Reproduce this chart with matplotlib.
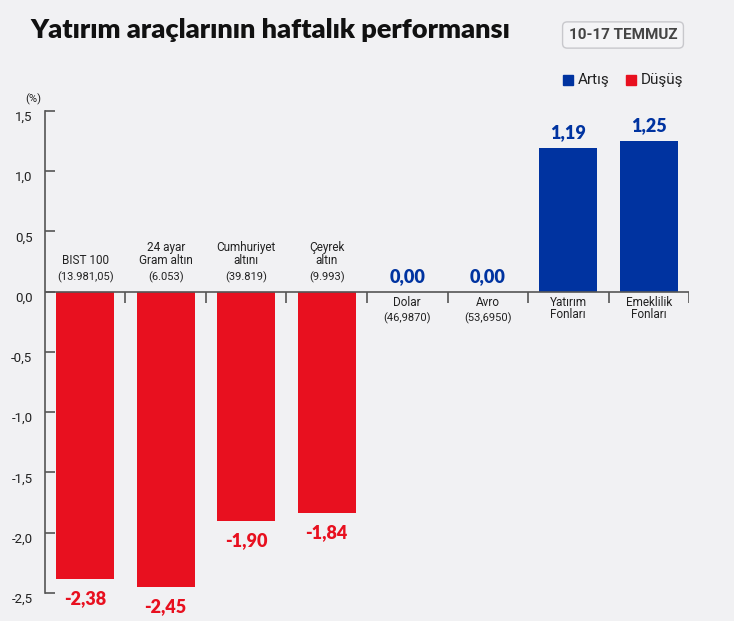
import numpy as np
import matplotlib.pyplot as plt

# data
names = ["BIST 100", "24 ayar\nGram altın", "Cumhuriyet\naltını", "Çeyrek\naltın",
         "Dolar", "Avro", "Yatırım\nFonları", "Emeklilik\nFonları"]
subs = ["(13.981,05)", "(6.053)", "(39.819)", "(9.993)",
        "(46,9870)", "(53,6950)", "", ""]
values = [-2.38, -2.45, -1.90, -1.84, 0.00, 0.00, 1.19, 1.25]
yticks = [1.5, 1.0, 0.5, 0.0, -0.5, -1.0, -1.5, -2.0, -2.5]

BG = "#f1f1f3"
RED = "#e8101f"
BLUE = "#0033a0"
AXIS = "#555555"
TXT = "#222222"
FONT = ["Roboto", "DejaVu Sans"]
BOLD = ["Lato", "DejaVu Sans"]

plt.rcParams['font.family'] = FONT

fig = plt.figure(figsize=(7.34, 6.21), dpi=100, facecolor=BG)
ax = fig.add_axes([0.0613, 0.0451, 0.8774, 0.7762])
ax.set_facecolor(BG)

x = np.arange(len(values))
colors = [RED if v < 0 else BLUE for v in values]
ax.bar(x, values, width=0.72, color=colors, zorder=2)

ax.set_xlim(-0.5, len(values) - 0.5)
ax.set_ylim(-2.5, 1.5)

# spines / ticks
for s in ["top", "right", "bottom"]:
    ax.spines[s].set_visible(False)
ax.spines["left"].set_color(AXIS)
ax.spines["left"].set_linewidth(1.2)
ax.set_xticks([])
ax.set_yticks(yticks)
ax.set_yticklabels([f"{t:.1f}".replace(".", ",") for t in yticks])
ax.tick_params(axis="y", direction="in", length=7, width=1.2, color=AXIS,
               labelsize=9.5, labelcolor=TXT, pad=9)
for lbl in ax.get_yticklabels():
    lbl.set_verticalalignment("top")

# zero line with separators
ax.hlines(0, -0.5, len(values) - 0.5, color=AXIS, lw=1.2, zorder=3)
ax.vlines(x[:-1] + 0.5, -0.09, 0, color=AXIS, lw=1.2, zorder=3)
ax.vlines(len(values) - 0.5, -0.09, 0, color=AXIS, lw=1.2, zorder=3)

# category labels and values
for i, v in enumerate(values):
    label = names[i]
    col = RED if v < 0 else BLUE
    txt = f"{v:.2f}".replace(".", ",")
    if v < 0:
        # labels above zero line
        if subs[i]:
            ax.annotate(subs[i], (i, 0), xytext=(0, 6), textcoords="offset points",
                        ha="center", va="bottom", fontsize=8, color=TXT)
        ax.annotate(label, (i, 0), xytext=(0, 18), textcoords="offset points",
                    ha="center", va="bottom", fontsize=8.5, color=TXT, linespacing=0.95)
        ax.annotate(txt, (i, v), xytext=(0, -8), textcoords="offset points",
                    ha="center", va="top", fontsize=13, color=col,
                    fontweight="heavy", family=BOLD, annotation_clip=False)
    else:
        ax.annotate(label, (i, 0), xytext=(0, -3), textcoords="offset points",
                    ha="center", va="top", fontsize=8.5, color=TXT, linespacing=0.95)
        if subs[i]:
            ax.annotate(subs[i], (i, 0), xytext=(0, -15), textcoords="offset points",
                        ha="center", va="top", fontsize=8, color=TXT)
        ax.annotate(txt, (i, v), xytext=(0, 5), textcoords="offset points",
                    ha="center", va="bottom", fontsize=13, color=col,
                    fontweight="heavy", family=BOLD, annotation_clip=False)

# unit label
fig.text(33 / 734, 1 - 99 / 621, "(%)", ha="center", va="center", fontsize=8, color=TXT)

# title
fig.text(30 / 734, 1 - 30 / 621, "Yatırım araçlarının haftalık performansı",
         ha="left", va="center", fontsize=19.5, fontweight="heavy", family=BOLD, color="#111111")

# date box
fig.text(623 / 734, 1 - 35 / 621, "10-17 TEMMUZ", ha="center", va="center",
         fontsize=11, fontweight="bold", color="#444444",
         bbox=dict(boxstyle="round,pad=0.4,rounding_size=0.3", fc="#f4f4f6",
                   ec="#c8c8cc", lw=1))

# legend
fig.patches.append(plt.Rectangle((563 / 734, 1 - 85 / 621), 10 / 734, 10 / 621,
                                 transform=fig.transFigure, color=BLUE))
fig.text(578 / 734, 1 - 80 / 621, "Artış", ha="left", va="center", fontsize=11, color=TXT)
fig.patches.append(plt.Rectangle((626 / 734, 1 - 85 / 621), 10 / 734, 10 / 621,
                                 transform=fig.transFigure, color=RED))
fig.text(641 / 734, 1 - 80 / 621, "Düşüş", ha="left", va="center", fontsize=11, color=TXT)

fig.savefig("out.png", dpi=100, facecolor=BG)
